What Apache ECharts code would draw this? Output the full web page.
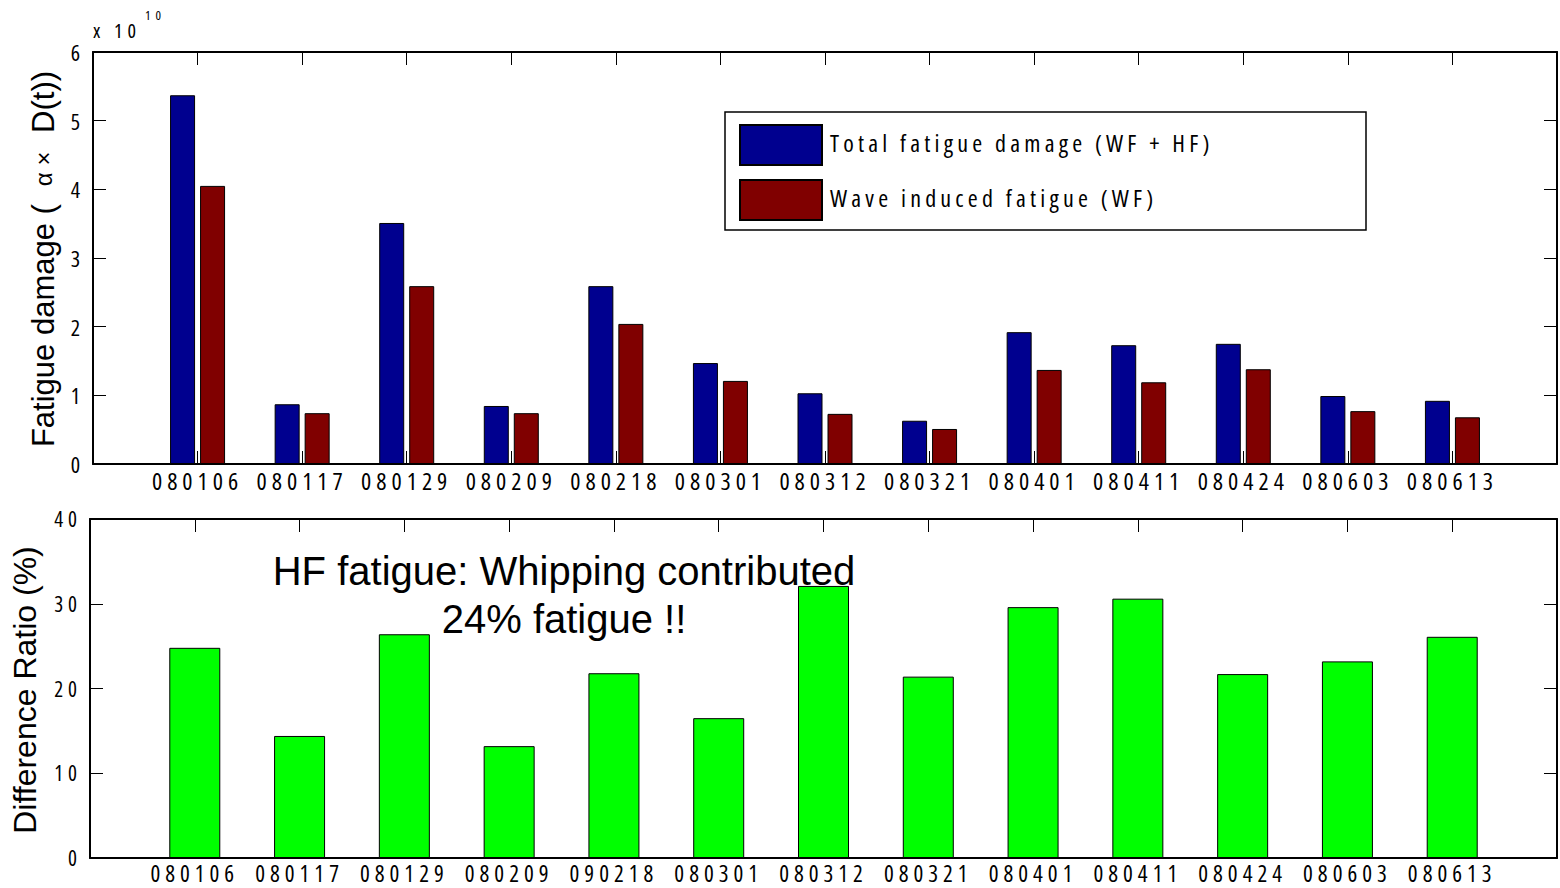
<!DOCTYPE html>
<html>
<head>
<meta charset="utf-8">
<script src="https://cdn.jsdelivr.net/npm/echarts@6/dist/echarts.min.js"></script>
<style>
  html, body { margin: 0; padding: 0; background: #fff; }
  #chart { width: 1560px; height: 888px; }
  /* narrow, widely spaced lettering for tick labels and legend entries */
  #chart text[style*="Open Sans"] { font-stretch: 75% !important; letter-spacing: 5px; }
  #chart text[style*="Noto Sans"] { letter-spacing: 4.2px; }
</style>
</head>
<body>
<div id="chart"></div>
<script>
// Voyage dates (yymmdd) for each measured passage
const damageDates = ['080106', '080117', '080129', '080209', '080218', '080301', '080312',
                     '080321', '080401', '080411', '080424', '080603', '080613'];
const ratioDates  = ['080106', '080117', '080129', '080209', '090218', '080301', '080312',
                     '080321', '080401', '080411', '080424', '080603', '080613'];

// Fatigue damage, in units of 1e10
const totalDamage = [5.37, 0.87, 3.51, 0.845, 2.59, 1.47, 1.03, 0.63, 1.92, 1.73, 1.75, 0.99, 0.92];
const waveDamage  = [4.05, 0.74, 2.59, 0.74, 2.04, 1.21, 0.73, 0.51, 1.37, 1.19, 1.38, 0.77, 0.68];

// Share of the total damage coming from high-frequency (whipping) response, %
const diffRatio = [24.8, 14.4, 26.4, 13.2, 21.8, 16.5, 32.1, 21.4, 29.6, 30.6, 21.7, 23.2, 26.1];

const seriesNames = ['Total fatigue damage (WF + HF)', 'Wave induced fatigue (WF)'];
const damageScaleText = ['x 10', '10'];
const annotationLines = ['HF fatigue: Whipping contributed', '24% fatigue !!'];

const TICK_FONT = "'Open Sans', sans-serif";
const LEGEND_FONT = "'Open Sans', 'Noto Sans', sans-serif";
const MAIN_FONT = "'Liberation Sans', Arial, sans-serif";

const thinTick = { color: '#000', width: 1 };

function xAxes(gridIndex, names, fontSize, margin) {
  const common = {
    gridIndex, type: 'value', min: 0, max: names.length + 1, interval: 1,
    axisLine: { onZero: false, lineStyle: { color: '#000', width: 2 } },
    axisTick: { inside: true, length: 13, lineStyle: thinTick },
    splitLine: { show: false }
  };
  return [
    Object.assign({}, common, {
      position: 'bottom',
      axisLabel: {
        color: '#000', fontFamily: TICK_FONT, fontSize, margin,
        formatter: v => (v >= 1 && v <= names.length ? names[v - 1] : '')
      }
    }),
    Object.assign({}, common, { position: 'top', axisLabel: { show: false } })
  ];
}

function yAxes(gridIndex, max, interval, fontSize) {
  const common = {
    gridIndex, type: 'value', min: 0, max, interval,
    axisLine: { show: true, onZero: false, lineStyle: { color: '#000', width: 2 } },
    axisTick: { show: true, inside: true, length: 13, lineStyle: thinTick },
    splitLine: { show: false }
  };
  return [
    Object.assign({}, common, {
      position: 'left',
      axisLabel: { color: '#000', fontFamily: TICK_FONT, fontSize, margin: 8 }
    }),
    Object.assign({}, common, { position: 'right', axisLabel: { show: false } })
  ];
}

const chart = echarts.init(document.getElementById('chart'), null, { renderer: 'svg' });

chart.setOption({
  animation: false,
  backgroundColor: '#fff',
  grid: [
    { left: 93, right: 2, top: 52, height: 412 },
    { left: 90, right: 2, top: 519, height: 339 }
  ],
  xAxis: [...xAxes(0, damageDates, 24, 4), ...xAxes(1, ratioDates, 23, 3)],
  yAxis: [...yAxes(0, 6, 1, 22), ...yAxes(1, 40, 10, 21)],
  legend: {
    data: seriesNames,
    orient: 'vertical',
    left: 739, top: 124,
    padding: 0,
    itemWidth: 82, itemHeight: 40, itemGap: 13,
    icon: 'rect',
    selectedMode: false,
    formatter: name => `{n|${name}}`,
    textStyle: {
      color: '#000', fontFamily: LEGEND_FONT, fontSize: 24, padding: [0, 0, 0, 3],
      rich: { n: { fontFamily: LEGEND_FONT, fontSize: 24, color: '#000', padding: [0, 0, 6, 0] } }
    }
  },
  series: [
    {
      name: seriesNames[0], type: 'bar', xAxisIndex: 0, yAxisIndex: 0,
      barWidth: 25, barGap: '20%',
      itemStyle: { color: '#00008F', borderColor: '#000', borderWidth: 1 },
      data: totalDamage.map((v, i) => [i + 1, v])
    },
    {
      name: seriesNames[1], type: 'bar', xAxisIndex: 0, yAxisIndex: 0,
      barWidth: 25, barGap: '20%',
      itemStyle: { color: '#800000', borderColor: '#000', borderWidth: 1 },
      data: waveDamage.map((v, i) => [i + 1, v])
    },
    {
      name: 'Difference Ratio', type: 'bar', xAxisIndex: 2, yAxisIndex: 2,
      barWidth: 51,
      itemStyle: { color: '#00FF00', borderColor: '#000', borderWidth: 1 },
      data: diffRatio.map((v, i) => [i + 1, v])
    }
  ],
  graphic: [
    // legend frame
    {
      type: 'rect', z: 1,
      shape: { x: 725, y: 112, width: 641, height: 118 },
      style: { fill: '#fff', stroke: '#000', lineWidth: 1.5 }
    },
    // exponent of the upper value axis
    {
      type: 'text', x: 93, y: 30, z: 10,
      style: { text: damageScaleText[0], fontFamily: TICK_FONT, fontSize: 20, fill: '#000', verticalAlign: 'middle' }
    },
    {
      type: 'text', x: 145, y: 15, z: 10,
      style: { text: damageScaleText[1], fontFamily: TICK_FONT, fontSize: 13, fill: '#000', verticalAlign: 'middle' }
    },
    // axis titles
    {
      type: 'text', x: 43, y: 259, rotation: Math.PI / 2, z: 10,
      style: {
        text: '{t|Fatigue damage (}{g|α × }{t|D(t))}',
        align: 'center', verticalAlign: 'middle', fill: '#000',
        rich: {
          t: { fontFamily: MAIN_FONT, fontSize: 31, fill: '#000' },
          g: { fontFamily: MAIN_FONT, fontSize: 24, fill: '#000', padding: [0, 12, 0, 18] }
        }
      }
    },
    {
      type: 'text', x: 25, y: 690, rotation: Math.PI / 2, z: 10,
      style: {
        text: 'Difference Ratio (%)', fontFamily: MAIN_FONT, fontSize: 32,
        fill: '#000', align: 'center', verticalAlign: 'middle'
      }
    },
    // annotation in the lower panel
    {
      type: 'text', x: 564, y: 571, z: 100,
      style: {
        text: annotationLines[0], fontFamily: MAIN_FONT, fontSize: 40,
        fill: '#000', align: 'center', verticalAlign: 'middle'
      }
    },
    {
      type: 'text', x: 564, y: 619, z: 100,
      style: {
        text: annotationLines[1], fontFamily: MAIN_FONT, fontSize: 40,
        fill: '#000', align: 'center', verticalAlign: 'middle'
      }
    }
  ]
});
</script>
</body>
</html>
